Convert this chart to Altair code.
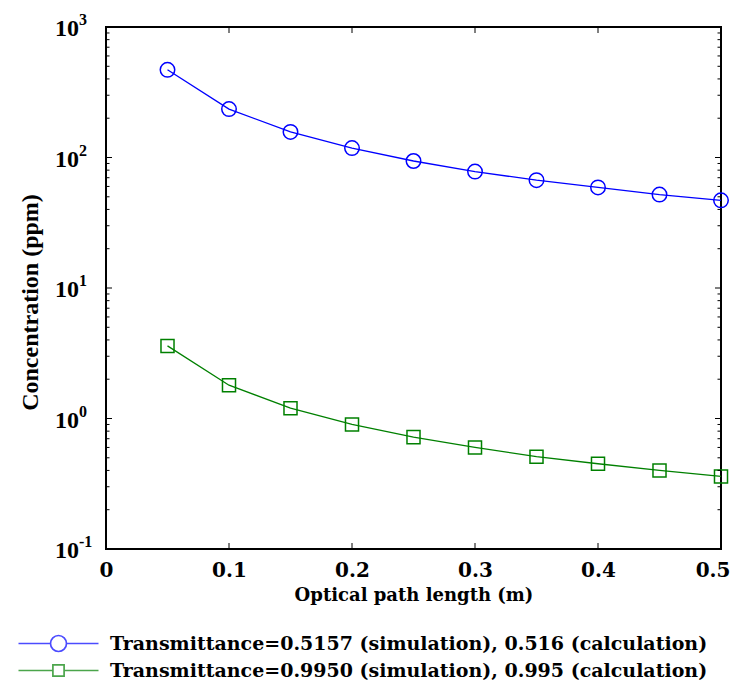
import altair as alt
import pandas as pd

# ---- data ----
path_length = [0.05, 0.10, 0.15, 0.20, 0.25, 0.30, 0.35, 0.40, 0.45, 0.50]
conc_a = [470, 235, 157, 118, 94, 78, 67, 59, 52, 47]          # T = 0.5157
conc_b = [3.6, 1.8, 1.2, 0.9, 0.72, 0.6, 0.51, 0.45, 0.40, 0.36]  # T = 0.9950
series_labels = [
    "Transmittance=0.5157 (simulation), 0.516 (calculation)",
    "Transmittance=0.9950 (simulation), 0.995 (calculation)",
]
series_colors = ["#0000ff", "#008000"]

x_ticks = [0, 0.1, 0.2, 0.3, 0.4, 0.5]
x_inner_ticks = [0.1, 0.2, 0.3, 0.4]
y_decades = [0.1, 1, 10, 100, 1000]
y_exponents = ["-1", "0", "1", "2", "3"]
y_minor = [m * d for d in [0.1, 1, 10, 100] for m in range(2, 10)]

W, H = 615, 522
SERIF = "Liberation Serif"
WIDE = "DejaVu Serif"

df = pd.DataFrame({
    "x": path_length * 2,
    "y": conc_a + conc_b,
    "series": [series_labels[0]] * len(path_length) + [series_labels[1]] * len(path_length),
})
ticks_major = pd.DataFrame({"y": y_decades, "exp": y_exponents, "base": ["10"] * len(y_decades)})
ticks_minor = pd.DataFrame({"y": y_minor})
ticks_x = pd.DataFrame({"x": x_inner_ticks})

x_scale = alt.Scale(domain=[0, 0.5], nice=False, zero=False)
y_scale = alt.Scale(type="log", domain=[0.1, 1000], nice=False)

x_axis = alt.Axis(
    title="Optical path length (m)", values=x_ticks, format="~g", grid=False,
    ticks=False, domain=False, labelPadding=11, labelFont=WIDE, labelFontSize=20,
    labelFontWeight="bold", labelColor="black", titleFont=WIDE, titleFontSize=18,
    titleFontWeight="bold", titleColor="black", titlePadding=6, labelFlush=False,
    labelAlign=alt.condition("datum.value >= 0.5", alt.value("right"), alt.value("center")),
    labelOffset=alt.condition("datum.value >= 0.5", alt.value(9), alt.value(0)))
y_axis = alt.Axis(
    title="Concentration (ppm)", labels=False, ticks=False, grid=False, domain=False,
    titleFont=SERIF, titleFontSize=24, titleFontWeight="bold", titleColor="black",
    titlePadding=64, titleY=275)
x_enc = alt.X("x:Q", scale=x_scale, axis=x_axis)
y_enc = alt.Y("y:Q", scale=y_scale, axis=y_axis)

base = alt.Chart(df)
layers = []
for lab, col, shp, sz in zip(series_labels, series_colors, ["circle", "square"], [210, 170]):
    sub = base.transform_filter(alt.datum.series == lab)
    layers.append(sub.mark_line(color=col, strokeWidth=1.3).encode(x=x_enc, y=y_enc))
    layers.append(sub.mark_point(shape=shp, size=sz, color=col, filled=False,
                                 strokeWidth=1.5, opacity=1).encode(x=x_enc, y=y_enc))

# legend-only layer (no visible marks); symbol unit = 8 px
circle_path = "M-5,0H-1A1,1,0,1,1,1,0A1,1,0,1,1,-1,0M1,0H5"
square_path = "M-5,0H-0.7M-0.7,-0.7H0.7V0.7H-0.7ZM0.7,0H5"
legend_cfg = alt.Legend(title=None, orient="none", legendX=-57, legendY=607,
                        direction="vertical", symbolSize=256, symbolStrokeWidth=1.7,
                        labelFont=WIDE, labelFontSize=19, labelFontWeight="bold",
                        labelColor="black", labelLimit=800, labelOffset=42, rowPadding=6,
                        symbolFillColor="transparent")
legend_layer = base.transform_filter(alt.datum.x < 0).mark_point(filled=False).encode(
    x=x_enc, y=y_enc,
    color=alt.Color("series:N", scale=alt.Scale(domain=series_labels, range=series_colors),
                    legend=legend_cfg),
    shape=alt.Shape("series:N", scale=alt.Scale(domain=series_labels,
                                                range=[circle_path, square_path]),
                    legend=legend_cfg),
)
layers.append(legend_layer)

# inward ticks and decade labels
tm = alt.Chart(ticks_major)
tn = alt.Chart(ticks_minor)
tx = alt.Chart(ticks_x)
rule = dict(color="black", strokeWidth=1)
layers += [
    tm.mark_rule(**rule).encode(y=y_enc, x=alt.value(0), x2=alt.value(6)),
    tm.mark_rule(**rule).encode(y=y_enc, x=alt.value(W), x2=alt.value(W - 6)),
    tn.mark_rule(**rule).encode(y=y_enc, x=alt.value(0), x2=alt.value(3.5)),
    tn.mark_rule(**rule).encode(y=y_enc, x=alt.value(W), x2=alt.value(W - 3.5)),
    tx.mark_rule(**rule).encode(x=x_enc, y=alt.value(H), y2=alt.value(H - 6)),
    tx.mark_rule(**rule).encode(x=x_enc, y=alt.value(0), y2=alt.value(6)),
    tm.mark_text(align="right", baseline="middle", font=SERIF, fontSize=24,
                 fontWeight="bold", color="black", dy=2).encode(
        y=y_enc, x=alt.value(-27), text="base:N"),
    tm.mark_text(align="left", baseline="middle", font=SERIF, fontSize=16,
                 fontWeight="bold", color="black", dy=-7).encode(
        y=y_enc, x=alt.value(-27), text="exp:N"),
]

chart = alt.layer(*layers).properties(
    width=W, height=H,
    autosize=alt.AutoSizeParams(type="none"),
    padding={"left": 98, "top": 19, "right": 10, "bottom": 133},
).configure(background="white").configure_view(stroke="black", strokeWidth=2)

chart.save("out.html", embed_options={"renderer": "svg", "actions": False})
